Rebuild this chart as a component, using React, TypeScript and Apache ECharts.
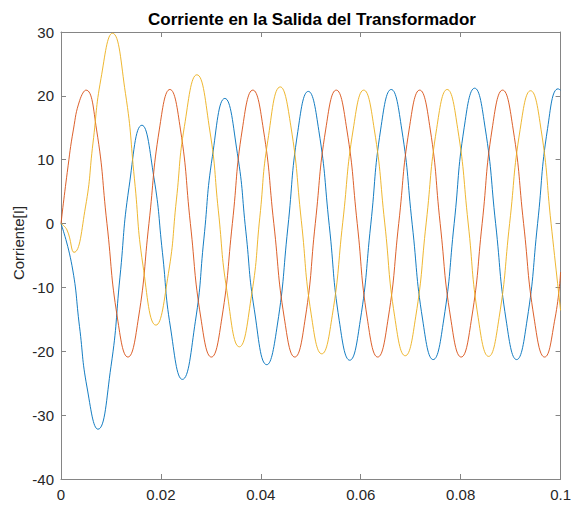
import React, { useEffect, useRef } from "react";
import * as echarts from "echarts";

// Tiempo [s] / corriente [A] pairs along each phase: crests, troughs and intermediate readings
const faseA: [number, number][] = [
  [0, 0], [0.0022, -6.6], [0.0037, -16.1], [0.0052, -25.6], [0.0074, -32.2],
  [0.01, -22.4], [0.0118, -8.4], [0.0136, 5.6], [0.0162, 15.4],
  [0.0186, 7.2], [0.0203, -4.5], [0.0219, -16.2], [0.0243, -24.4],
  [0.0269, -15.3], [0.0286, -2.4], [0.0303, 10.5], [0.0328, 19.6],
  [0.0353, 11.0], [0.037, -1.2], [0.0387, -13.5], [0.0412, -22.1],
  [0.0433, -15.9], [0.0454, -0.7], [0.0474, 14.4], [0.0495, 20.7],
  [0.0516, 14.6], [0.0537, -0.3], [0.0557, -15.2], [0.0578, -21.4],
  [0.0599, -15.2], [0.062, -0.2], [0.064, 14.8], [0.0661, 21.0],
  [0.0682, 14.8], [0.0703, -0.1], [0.0724, -15.1], [0.0745, -21.3],
  [0.0766, -15.1], [0.0787, 0], [0.0807, 15.0], [0.0828, 21.2],
  [0.0849, 15.0], [0.087, 0], [0.0891, -15.1], [0.0912, -21.3],
  [0.0933, -15.1], [0.0954, 0], [0.0974, 14.9], [0.0995, 21.1],
  [0.1, 20.9],
];

const faseB: [number, number][] = [
  [0, 0], [0.00125, 8.0], [0.0025, 14.8], [0.00375, 19.3], [0.005, 20.9],
  [0.0071, 14.8], [0.0092, 0], [0.0113, -14.8], [0.0134, -20.9],
  [0.0155, -14.8], [0.0176, 0], [0.0197, 14.8], [0.0218, 21.0],
  [0.0239, 14.8], [0.0259, 0], [0.028, -14.8], [0.0301, -20.9],
  [0.0322, -14.8], [0.0343, 0], [0.0363, 14.8], [0.0384, 20.9],
  [0.0405, 14.8], [0.0426, 0], [0.0447, -14.8], [0.0468, -20.9],
  [0.0489, -14.8], [0.0509, 0], [0.053, 14.8], [0.0551, 20.9],
  [0.0572, 14.8], [0.0593, 0], [0.0613, -14.8], [0.0634, -20.9],
  [0.0655, -14.8], [0.0676, 0], [0.0697, 14.8], [0.0718, 20.9],
  [0.0739, 14.8], [0.0759, 0], [0.078, -14.8], [0.0801, -20.9],
  [0.0822, -14.8], [0.0843, 0], [0.0863, 14.8], [0.0884, 20.9],
  [0.0905, 14.8], [0.0926, 0], [0.0947, -14.8], [0.0968, -20.9],
  [0.0989, -14.8], [0.1, -7.6],
];

const faseC: [number, number][] = [
  [0, 0], [0.0012, -1.0], [0.0026, -4.5],
  [0.0049, 2.6], [0.0064, 12.6], [0.008, 22.7], [0.0103, 29.8],
  [0.0129, 20.4], [0.0147, 7.0], [0.0164, -6.5], [0.019, -15.9],
  [0.0215, -7.8], [0.0231, 3.7], [0.0247, 15.2], [0.0272, 23.3],
  [0.0298, 14.5], [0.0315, 2.0], [0.0332, -10.5], [0.0357, -19.3],
  [0.0382, -10.9], [0.0398, 1.0], [0.0414, 13.0], [0.0439, 21.4],
  [0.046, 15.3], [0.0481, 0.5], [0.0501, -14.3], [0.0522, -20.4],
  [0.0543, -14.4], [0.0564, 0.2], [0.0585, 14.8], [0.0606, 20.9],
  [0.0627, 14.8], [0.0648, 0.1], [0.0668, -14.6], [0.0689, -20.7],
  [0.071, -14.6], [0.0731, 0.1], [0.0752, 14.9], [0.0773, 21.0],
  [0.0794, 14.9], [0.0815, 0.1], [0.0835, -14.7], [0.0856, -20.8],
  [0.0877, -14.7], [0.0898, 0], [0.0919, 14.7], [0.094, 20.8],
  [0.0961, 14.7], [0.0981, 0], [0.1, -13.6],
];

const tiempoMin = 0;
const tiempoMax = 0.1;
const tiempoPaso = 0.02;
const corrienteMin = -40;
const corrienteMax = 30;
const corrientePaso = 10;

const titulo = "Corriente en la Salida del Transformador";
const etiquetaY = "Corriente[I]";

const FONT = "'Liberation Sans', Arial, Helvetica, sans-serif";
const AXIS_COLOR = "#858585";
const TEXT_COLOR = "#262626";
const COLORS = ["#0072BD", "#D95319", "#EDB120"];

export default function App() {
  const ref = useRef<HTMLDivElement>(null);

  useEffect(() => {
    if (!ref.current) return;
    const chart = echarts.init(ref.current, undefined, { renderer: "svg" });

    const axisLine = { show: true, onZero: false, lineStyle: { color: AXIS_COLOR, width: 1 } };
    const axisTick = { show: true, inside: true, length: 5, lineStyle: { color: AXIS_COLOR, width: 1 } };
    const label = { color: TEXT_COLOR, fontSize: 15, fontFamily: FONT };

    const xBase = {
      type: "value" as const,
      min: tiempoMin,
      max: tiempoMax,
      interval: tiempoPaso,
      axisLine,
      axisTick,
      splitLine: { show: false },
    };
    const yBase = {
      type: "value" as const,
      min: corrienteMin,
      max: corrienteMax,
      interval: corrientePaso,
      axisLine,
      axisTick,
      splitLine: { show: false },
    };

    const serie = (data: [number, number][], color: string) => ({
      type: "line" as const,
      data,
      smooth: 0.5,
      showSymbol: false,
      symbol: "none",
      clip: true,
      lineStyle: { color, width: 1, opacity: 0.92 },
      itemStyle: { color },
      emphasis: { disabled: true },
    });

    chart.setOption({
      animation: false,
      backgroundColor: "#ffffff",
      grid: { left: 61, right: 10, top: 32, bottom: 30 },
      xAxis: [
        {
          ...xBase,
          position: "bottom",
          axisLabel: {
            ...label,
            margin: 8,
            formatter: (v: number) => String(Number(v.toFixed(2))),
          },
        },
        { ...xBase, position: "top", axisLabel: { show: false } },
      ],
      yAxis: [
        {
          ...yBase,
          position: "left",
          axisLabel: { ...label, margin: 7 },
        },
        { ...yBase, position: "right", axisLabel: { show: false } },
      ],
      graphic: [
        {
          type: "text",
          x: 312,
          y: 19,
          style: {
            text: titulo,
            fill: "#000000",
            font: `bold 17px ${FONT}`,
            textAlign: "center",
            textVerticalAlign: "middle",
          },
        },
        {
          type: "text",
          x: 18,
          y: 243,
          rotation: Math.PI / 2,
          style: {
            text: etiquetaY,
            fill: TEXT_COLOR,
            font: `15px ${FONT}`,
            textAlign: "center",
            textVerticalAlign: "middle",
          },
        },
      ],
      series: [
        serie(faseA, COLORS[0]),
        serie(faseB, COLORS[1]),
        serie(faseC, COLORS[2]),
      ],
    });

    return () => chart.dispose();
  }, []);

  return (
    <div
      ref={ref}
      style={{ position: "fixed", left: 0, top: 0, width: 574, height: 509 }}
    />
  );
}
